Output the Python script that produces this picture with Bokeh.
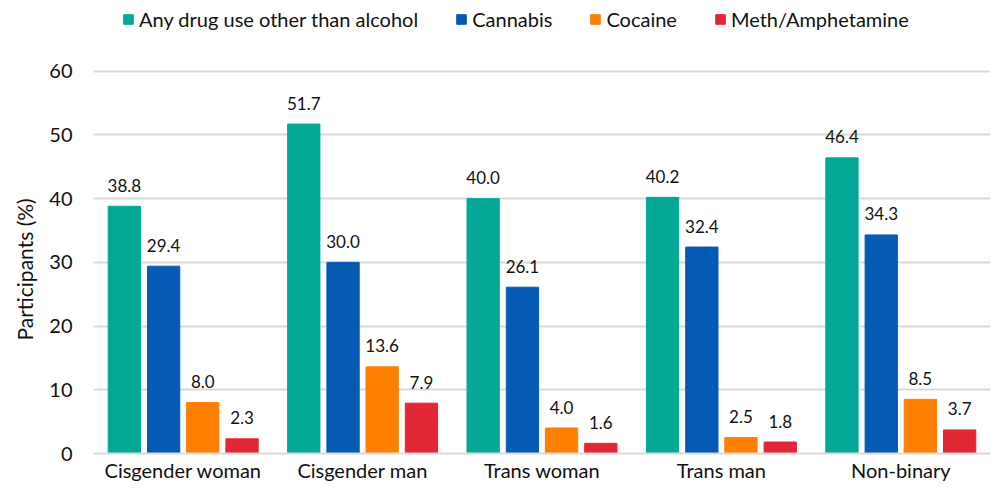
from bokeh.plotting import figure
from bokeh.models import ColumnDataSource, FactorRange, Legend, LegendItem, LabelSet, Range1d, Title
from bokeh.transform import dodge
from bokeh.core.properties import value
from bokeh.embed import file_html
from bokeh.resources import INLINE

categories = ["Cisgender woman", "Cisgender man", "Trans woman", "Trans man", "Non-binary"]
series_names = ["Any drug use other than alcohol", "Cannabis", "Cocaine", "Meth/Amphetamine"]
any_drug = [38.8, 51.7, 40.0, 40.2, 46.4]
cannabis = [29.4, 30.0, 26.1, 32.4, 34.3]
cocaine = [8.0, 13.6, 4.0, 2.5, 8.5]
meth = [2.3, 7.9, 1.6, 1.8, 3.7]
y_ticks = [0, 10, 20, 30, 40, 50, 60]

colors = ["#03A996", "#055BB3", "#FF7F00", "#E32636"]
FONT = "Lato"
TXT = "#111111"

# y range extends above 60 to leave room for the legend inside the frame
p = figure(x_range=FactorRange(*categories), y_range=Range1d(0, 70.31),
           width=990, height=484, output_backend="svg", toolbar_location=None,
           min_border_left=91, min_border_right=0, min_border_top=5, min_border_bottom=29)
p.outline_line_color = None
p.x_range.range_padding = 0

values = [any_drug, cannabis, cocaine, meth]
offsets = [-0.328, -0.109, 0.109, 0.328]
items = []
for name, vals, off, col in zip(series_names, values, offsets, colors):
    src = ColumnDataSource(dict(cat=categories, v=vals, lab=[f"{x:.1f}" for x in vals]))
    r = p.vbar(x=dodge("cat", off, range=p.x_range), top="v", width=0.18, source=src,
               fill_color=col, line_color=col, line_width=1)
    items.append(LegendItem(label=name, renderers=[r]))
    p.add_layout(LabelSet(x=dodge("cat", off, range=p.x_range), y="v", text="lab", source=src,
                          text_align="center", text_baseline="middle", y_offset=21,
                          text_font=value(FONT), text_font_size="17px", text_color=TXT))

legend = Legend(items=items, orientation="horizontal", location=(29, 422),
                glyph_width=12, glyph_height=12, label_standoff=5, spacing=37,
                padding=0, margin=0, border_line_color=None, background_fill_alpha=0,
                label_text_font=FONT, label_text_font_size="20px", label_text_color=TXT,
                label_height=20)
p.add_layout(legend, "center")

p.ygrid.grid_line_color = "#d9d9d9"
p.ygrid.grid_line_width = 2
p.xgrid.grid_line_color = None
p.yaxis.ticker = y_ticks
p.yaxis.axis_line_color = None
p.yaxis.major_tick_line_color = None
p.yaxis.minor_tick_line_color = None
p.yaxis.major_tick_out = 0
p.yaxis.major_label_standoff = 21
p.yaxis.major_label_text_font = FONT
p.yaxis.major_label_text_font_size = "20px"
p.yaxis.major_label_text_color = TXT

ylab = Title(text="Participants (%)", align="left", offset=113, standoff=19,
             text_font=FONT, text_font_size="21px", text_font_style="normal", text_color=TXT)
p.add_layout(ylab, "left")

p.xaxis.axis_line_color = "#d9d9d9"
p.xaxis.axis_line_width = 2
p.xaxis.major_tick_line_color = None
p.xaxis.minor_tick_line_color = None
p.xaxis.major_tick_out = 0
p.xaxis.major_label_standoff = 4
p.xaxis.major_label_text_font = FONT
p.xaxis.major_label_text_font_size = "20px"
p.xaxis.major_label_text_color = TXT

open("out.html", "w").write(file_html(p, INLINE))
